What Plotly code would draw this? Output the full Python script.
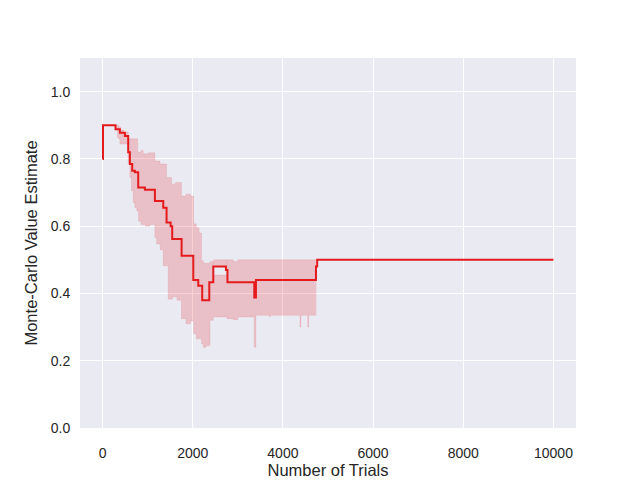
import plotly.graph_objects as go

# Mean Monte-Carlo estimate (step positions and values)
mean_x = [0, 10, 288, 384, 495, 569, 606, 658, 717, 791, 939, 1161, 1346, 1420, 1510, 1545,
          1753, 2012, 2123, 2210, 2367, 2456, 2737, 2770, 3365, 3402, 4733, 4760, 10000]
mean_y = [0.80, 0.90, 0.888, 0.878, 0.868, 0.82, 0.785, 0.765, 0.76, 0.715, 0.708, 0.675, 0.655,
          0.611, 0.60, 0.562, 0.512, 0.44, 0.423, 0.38, 0.433, 0.48, 0.47, 0.433, 0.388, 0.44,
          0.48, 0.50, 0.50]

# Confidence band (lower / upper bounds at step positions)
band_x = [280, 330, 362, 384, 400, 470, 569, 606, 640, 680, 717, 760, 780, 800, 850, 900, 950,
          1020, 1050, 1161, 1200, 1272, 1280, 1346, 1420, 1457, 1530, 1550, 1620, 1650, 1750,
          1850, 1950, 2020, 2080, 2140, 2195, 2234, 2300, 2383, 2456, 2760, 2900, 3000, 3365,
          3400, 3700, 3720, 4380, 4400, 4550, 4570, 4740]
band_lo = [0.89, 0.864, 0.86, 0.844, 0.844, 0.844, 0.785, 0.745, 0.705, 0.67, 0.655, 0.645,
           0.645, 0.615, 0.605, 0.605, 0.60, 0.60, 0.605, 0.566, 0.547, 0.547, 0.53, 0.482,
           0.482, 0.383, 0.383, 0.39, 0.39, 0.38, 0.325, 0.31, 0.318, 0.28, 0.265, 0.265, 0.25,
           0.24, 0.245, 0.32, 0.33, 0.325, 0.322, 0.33, 0.24, 0.335, 0.33, 0.335, 0.30, 0.335,
           0.30, 0.335, 0.335]
band_hi = [0.90, 0.90, 0.895, 0.895, 0.886, 0.88, 0.86, 0.86, 0.86, 0.86, 0.86, 0.86, 0.82,
           0.82, 0.825, 0.815, 0.815, 0.818, 0.818, 0.794, 0.794, 0.785, 0.785, 0.785, 0.745,
           0.745, 0.725, 0.725, 0.73, 0.73, 0.69, 0.695, 0.69, 0.607, 0.595, 0.58, 0.497, 0.49,
           0.49, 0.495, 0.455, 0.50, 0.495, 0.50, 0.50, 0.50, 0.50, 0.50, 0.50, 0.50, 0.50, 0.50,
           0.50]

# Upper part of the band above the mean where the band splits
notch_x = [2456, 2760]
notch_lo = [0.48, 0.48]
notch_hi = [0.50, 0.50]

x_ticks = [0, 2000, 4000, 6000, 8000, 10000]
y_ticks = [0.0, 0.2, 0.4, 0.6, 0.8, 1.0]

RED = "#e41a1c"
FILL = "rgba(228,26,28,0.2)"
EDGE = "rgba(228,26,28,0.12)"

fig = go.Figure()
fig.add_trace(go.Scatter(x=band_x, y=band_lo, mode="lines", line=dict(width=0.8, color=EDGE, shape="hv"),
                         hoverinfo="skip", showlegend=False))
fig.add_trace(go.Scatter(x=band_x, y=band_hi, mode="lines", line=dict(width=0.8, color=EDGE, shape="hv"),
                         fill="tonexty", fillcolor=FILL, hoverinfo="skip", showlegend=False))
fig.add_trace(go.Scatter(x=notch_x, y=notch_lo, mode="lines", line=dict(width=0, shape="hv"),
                         hoverinfo="skip", showlegend=False))
fig.add_trace(go.Scatter(x=notch_x, y=notch_hi, mode="lines", line=dict(width=0.8, color=EDGE, shape="hv"),
                         fill="tonexty", fillcolor=FILL, hoverinfo="skip", showlegend=False))
fig.add_trace(go.Scatter(x=mean_x, y=mean_y, mode="lines", line=dict(color=RED, width=2, shape="hv"),
                         showlegend=False))

font_family = "Liberation Sans, Arial, sans-serif"
fig.update_layout(
    width=640, height=480,
    margin=dict(l=72, r=72, t=50, b=60, autoexpand=False),
    paper_bgcolor="white", plot_bgcolor="#EAEAF2",
    font=dict(family=font_family, color="#262626", size=14),
    showlegend=False,
)
fig.update_xaxes(range=[-500, 10500], tickvals=x_ticks, ticktext=[str(v) for v in x_ticks],
                 showgrid=True, gridcolor="white", gridwidth=1.3, zeroline=False,
                 ticks="outside", ticklen=12, tickcolor="rgba(0,0,0,0)", tickfont=dict(size=14),
                 title=dict(text="Number of Trials", font=dict(size=16.5), standoff=3),
                 showline=False, automargin=False)
fig.update_yaxes(range=[0, 1.1], tickvals=y_ticks, ticktext=[f"{v:.1f}" for v in y_ticks],
                 showgrid=True, gridcolor="white", gridwidth=1.3, zeroline=False,
                 ticks="outside", ticklen=6, tickcolor="rgba(0,0,0,0)", tickfont=dict(size=14),
                 title=dict(text="Monte-Carlo Value Estimate", font=dict(size=16.5), standoff=8),
                 showline=False, automargin=False)

fig.write_html("out.html")
